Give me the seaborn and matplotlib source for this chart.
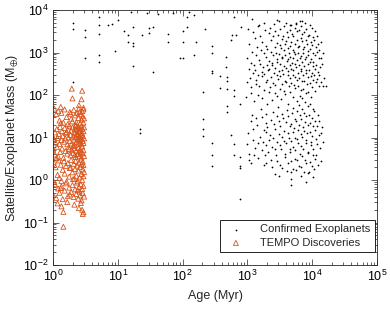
import matplotlib
matplotlib.use("Agg")
import matplotlib.pyplot as plt
import seaborn as sns
import numpy as np
from matplotlib.ticker import LogLocator, LogFormatterSciNotation, NullFormatter

# values, stored as log10(age / Myr) and log10(mass / M_earth)

# confirmed exoplanets, sparse young ones (< ~150 Myr)
exo_sparse_log_age = [0.31, 0.31, 0.31, 0.49, 0.49, 0.49, 0.71, 0.71, 0.71, 0.71, 0.71,
                      0.85, 0.91, 0.95, 1.00, 1.10, 1.15, 1.15, 1.23, 1.23, 1.23, 1.23,
                      1.34, 1.34, 1.37, 1.48, 1.48, 1.54, 1.54, 1.77, 1.77, 2.00, 2.00,
                      2.00, 1.96, 2.07, 2.07, 2.18, 2.18, 1.20, 1.45, 1.62, 1.85, 2.10]
exo_sparse_log_mass = [3.70, 3.55, 2.30, 3.53, 3.37, 2.86, 3.84, 3.65, 3.44, 2.95, 2.78,
                       3.65, 3.66, 3.03, 3.77, 3.51, 3.42, 3.25, 3.60, 3.23, 3.16, 2.69,
                       1.20, 1.10, 3.42, 3.58, 3.46, 3.60, 2.53, 3.44, 3.25, 3.51, 3.25,
                       2.86, 2.87, 3.84, 3.60, 3.88, 2.95, 3.95, 3.92, 3.90, 3.93, 3.95]

# confirmed exoplanets between ~150 Myr and 1 Gyr, plus a few stragglers
exo_mid_log_age = [2.34, 2.46, 2.46, 2.46, 2.46, 2.58, 2.58, 2.31, 2.67, 2.67, 2.68,
                   2.68, 2.68, 2.31, 2.31, 2.31, 2.46, 2.46, 2.46, 2.68, 2.68, 2.80,
                   2.80, 2.88, 2.75, 2.80, 2.80, 2.89, 2.89, 2.89, 2.90, 3.18, 3.46,
                   3.65, 3.75, 3.85, 2.77, 2.82, 2.75, 2.89, 2.20, 4.22, 2.80, 3.07]
exo_mid_log_mass = [3.55, 3.15, 2.98, 2.57, 2.51, 2.45, 2.16, 2.08, 2.90, 2.67, 2.43,
                    2.34, 2.13, 1.43, 1.19, 1.04, 0.88, 0.60, 0.33, 1.74, 1.61, 2.12,
                    1.98, 1.80, 1.06, 0.85, 0.59, 0.53, 0.34, 0.29, 3.61, 3.65, 3.76,
                    3.65, 3.69, 3.73, 3.41, 3.41, 3.29, -0.45, 3.25, 2.21, 3.84, 3.80]

# old, massive planets (upper cloud)
exo_upper_log_age = [
    3.01, 2.99, 3.02, 3.00, 2.98,
    3.03, 3.05, 3.04, 3.06,
    3.09, 3.07, 3.10, 3.08, 3.06,
    3.11, 3.13, 3.12, 3.14, 3.10,
    3.17, 3.15, 3.18, 3.16, 3.14, 3.17,
    3.19, 3.21, 3.20, 3.22, 3.18,
    3.25, 3.23, 3.26, 3.24, 3.22, 3.25, 3.23,
    3.27, 3.29, 3.28, 3.30, 3.26, 3.29,
    3.33, 3.31, 3.34, 3.32, 3.30, 3.33, 3.31,
    3.35, 3.37, 3.36, 3.38, 3.34, 3.37, 3.35, 3.38,
    3.41, 3.39, 3.42, 3.40, 3.38, 3.41, 3.39, 3.42,
    3.43, 3.45, 3.44, 3.46, 3.42, 3.45, 3.43, 3.46,
    3.49, 3.47, 3.50, 3.48, 3.46, 3.49, 3.47, 3.50,
    3.51, 3.53, 3.52, 3.54, 3.50, 3.53, 3.51, 3.54, 3.52,
    3.57, 3.55, 3.58, 3.56, 3.54, 3.57, 3.55, 3.58, 3.56,
    3.59, 3.61, 3.60, 3.62, 3.58, 3.61, 3.59, 3.62, 3.60, 3.58,
    3.65, 3.63, 3.66, 3.64, 3.62, 3.65, 3.63, 3.66, 3.64, 3.62,
    3.67, 3.69, 3.68, 3.70, 3.66, 3.69, 3.67, 3.70, 3.68, 3.66,
    3.73, 3.71, 3.74, 3.72, 3.70, 3.73, 3.71, 3.74, 3.72, 3.70,
    3.75, 3.77, 3.76, 3.78, 3.74, 3.77, 3.75, 3.78, 3.76, 3.74, 3.77,
    3.81, 3.79, 3.82, 3.80, 3.78, 3.81, 3.79, 3.82, 3.80, 3.78, 3.81,
    3.83, 3.85, 3.84, 3.86, 3.82, 3.85, 3.83, 3.86, 3.84, 3.82, 3.85,
    3.89, 3.87, 3.90, 3.88, 3.86, 3.89, 3.87, 3.90, 3.88, 3.86, 3.89,
    3.91, 3.93, 3.92, 3.94, 3.90, 3.93, 3.91, 3.94, 3.92, 3.90,
    3.97, 3.95, 3.98, 3.96, 3.94, 3.97, 3.95, 3.98, 3.96, 3.94, 3.97,
    3.99, 4.01, 4.00, 4.02, 3.98, 4.01, 3.99, 4.02, 4.00, 3.98,
    4.05, 4.03, 4.06, 4.04, 4.02, 4.05, 4.03, 4.06, 4.04,
    4.07, 4.09, 4.08, 4.10, 4.06, 4.09, 4.07, 4.10,
    4.13, 4.11, 4.14, 4.12, 4.10, 4.13,
    4.17, 4.15, 4.18, 4.16,
]
exo_upper_log_mass = [
    3.55, 2.88, 2.62, 2.30, 1.95,
    3.20, 2.75, 2.41, 2.05,
    3.48, 3.02, 2.70, 2.52, 2.18,
    3.33, 2.95, 2.60, 2.27, 1.85,
    3.62, 3.12, 2.83, 2.48, 2.36, 2.01,
    3.40, 3.05, 2.74, 2.55, 2.22,
    3.70, 3.25, 2.98, 2.66, 2.44, 2.12, 1.92,
    3.52, 3.15, 2.90, 2.70, 2.50, 2.30,
    3.45, 3.08, 2.80, 2.58, 2.35, 2.08, 1.78,
    3.58, 3.30, 3.02, 2.76, 2.62, 2.42, 2.18, 1.88,
    3.66, 3.38, 3.12, 2.93, 2.70, 2.52, 2.28, 2.05,
    3.50, 3.22, 3.00, 2.84, 2.64, 2.46, 2.24, 1.98,
    3.74, 3.42, 3.18, 2.96, 2.78, 2.56, 2.38, 2.14,
    3.55, 3.32, 3.10, 2.90, 2.72, 2.60, 2.44, 2.26, 1.90,
    3.62, 3.40, 3.20, 3.05, 2.86, 2.68, 2.50, 2.34, 2.10,
    3.70, 3.48, 3.28, 3.10, 2.94, 2.80, 2.64, 2.48, 2.30, 2.02,
    3.52, 3.36, 3.16, 2.98, 2.84, 2.70, 2.56, 2.40, 2.20, 1.80,
    3.64, 3.44, 3.24, 3.06, 2.90, 2.76, 2.62, 2.46, 2.28, 2.08,
    3.58, 3.38, 3.20, 3.02, 2.88, 2.72, 2.58, 2.42, 2.24, 1.95,
    3.68, 3.50, 3.30, 3.12, 2.96, 2.82, 2.66, 2.52, 2.36, 2.16, 1.86,
    3.74, 3.54, 3.34, 3.16, 3.00, 2.86, 2.70, 2.56, 2.40, 2.22, 1.98,
    3.62, 3.44, 3.26, 3.08, 2.92, 2.78, 2.62, 2.48, 2.32, 2.12, 1.92,
    3.70, 3.48, 3.30, 3.14, 2.98, 2.84, 2.68, 2.52, 2.34, 2.14, 1.84,
    3.56, 3.38, 3.20, 3.04, 2.90, 2.74, 2.58, 2.42, 2.26, 2.04,
    3.64, 3.42, 3.24, 3.08, 2.94, 2.78, 2.60, 2.44, 2.28, 2.06, 1.80,
    3.58, 3.36, 3.18, 3.00, 2.84, 2.68, 2.52, 2.36, 2.18, 1.96,
    3.50, 3.30, 3.12, 2.94, 2.78, 2.62, 2.46, 2.30, 2.10,
    3.40, 3.20, 3.02, 2.86, 2.70, 2.54, 2.38, 2.20,
    3.25, 3.05, 2.88, 2.66, 2.48, 2.30,
    3.00, 2.72, 2.40, 2.21,
]

# old, low-mass planets (lower cloud)
exo_lower_log_age = [
    3.01, 2.99, 3.02,
    3.05, 3.03,
    3.07, 3.09, 3.08, 3.10, 3.06,
    3.13, 3.11,
    3.15, 3.17, 3.16,
    3.21, 3.19, 3.22,
    3.23, 3.25, 3.24, 3.26,
    3.28, 3.28, 3.29, 3.28, 3.27, 3.28,
    3.31, 3.33, 3.32,
    3.37, 3.35, 3.38, 3.36,
    3.39, 3.41, 3.40, 3.42, 3.38,
    3.45, 3.43, 3.46, 3.44, 3.42,
    3.47, 3.49, 3.48, 3.50, 3.46, 3.49,
    3.53, 3.51, 3.54, 3.52, 3.50,
    3.55, 3.57, 3.56, 3.58, 3.54,
    3.61, 3.59, 3.62, 3.60, 3.58, 3.61,
    3.63, 3.65, 3.64, 3.66, 3.62,
    3.69, 3.67, 3.70, 3.68, 3.66, 3.68, 3.68, 3.68, 3.68,
    3.71, 3.73, 3.72, 3.74, 3.70, 3.73, 3.71,
    3.77, 3.75, 3.78, 3.76, 3.74, 3.77, 3.75,
    3.79, 3.81, 3.80, 3.82, 3.78, 3.81, 3.79, 3.82,
    3.85, 3.83, 3.86, 3.84, 3.82, 3.85, 3.83,
    3.87, 3.89, 3.88, 3.90, 3.86, 3.89, 3.87, 3.90,
    3.93, 3.91, 3.94, 3.92, 3.90, 3.93, 3.91, 3.94,
    3.95, 3.97, 3.96, 3.98, 3.94, 3.97, 3.95,
    4.01, 3.99, 4.02, 4.00, 3.98, 4.01, 3.99, 4.02,
    4.03, 4.05, 4.04, 4.06, 4.02, 4.05, 4.03,
    4.09, 4.07, 4.10, 4.08, 4.06, 4.09,
    4.11, 4.13, 4.12, 4.14,
    4.15, 4.17,
]
exo_lower_log_mass = [
    1.10, 0.84, 0.47,
    1.38, 0.62,
    1.52, 1.21, 0.95, 0.58, 0.40,
    1.45, 0.75,
    1.30, 0.88, 0.52,
    1.66, 1.02, 0.70,
    1.48, 1.18, 0.90, 0.35,
    1.56, 1.35, 1.12, 0.82, 0.60, 0.40,
    1.25, 0.95, 0.66,
    1.42, 1.05, 0.78, 0.48,
    1.60, 1.32, 0.98, 0.72, 0.30,
    1.50, 1.20, 0.90, 0.58, 0.15,
    1.72, 1.38, 1.08, 0.82, 0.44, 0.10,
    1.55, 1.28, 1.02, 0.74, 0.36,
    1.46, 1.15, 0.92, 0.62, 0.28,
    1.64, 1.36, 1.10, 0.86, 0.54, 0.22,
    1.50, 1.26, 0.98, 0.72, 0.40,
    1.58, 1.32, 1.14, 0.92, 0.66, 0.44, 0.20, 0.02, -0.12,
    1.70, 1.44, 1.22, 1.00, 0.78, 0.50, 0.26,
    1.62, 1.40, 1.18, 0.96, 0.70, 0.46, 0.24,
    1.76, 1.52, 1.30, 1.08, 0.88, 0.62, 0.34, 0.10,
    1.66, 1.44, 1.24, 1.02, 0.80, 0.56, 0.30,
    1.58, 1.36, 1.16, 0.94, 0.72, 0.48, 0.20, -0.05,
    1.74, 1.50, 1.30, 1.10, 0.88, 0.64, 0.40, 0.16,
    1.54, 1.34, 1.12, 0.90, 0.66, 0.42, 0.18,
    1.68, 1.46, 1.26, 1.04, 0.82, 0.58, 0.32, 0.08,
    1.62, 1.40, 1.18, 0.96, 0.74, 0.50, 0.26,
    1.52, 1.28, 1.06, 0.84, 0.60, 0.36,
    1.40, 1.10, 0.76, 0.45,
    1.25, 0.90,
]

# TEMPO discoveries (1-3 Myr)
tempo_log_age = [
    # top
    0.29, 0.45, 0.30, 0.44, 0.12, 0.40, 0.47,
    # 1.3 - 1.7
    0.02, 0.05, 0.08, 0.10, 0.13, 0.16, 0.18, 0.21, 0.23, 0.26, 0.28, 0.30, 0.32, 0.34, 0.36,
    0.37, 0.39, 0.40, 0.42, 0.43, 0.44, 0.45, 0.46, 0.47, 0.47, 0.48, 0.35, 0.27, 0.12, 0.41,
    # 0.8 - 1.3
    0.00, 0.01, 0.03, 0.04, 0.06, 0.07, 0.09, 0.10, 0.11, 0.13, 0.14, 0.15, 0.17, 0.18, 0.19,
    0.20, 0.22, 0.23, 0.24, 0.25, 0.26, 0.27, 0.28, 0.29, 0.30, 0.31, 0.32, 0.33, 0.33, 0.34,
    0.35, 0.35, 0.36, 0.37, 0.37, 0.38, 0.38, 0.39, 0.39, 0.40, 0.40, 0.41, 0.41, 0.42, 0.42,
    0.43, 0.43, 0.44, 0.44, 0.45, 0.45, 0.46, 0.46, 0.47, 0.47, 0.48, 0.48, 0.36, 0.31, 0.21,
    # 0.5 - 0.8
    0.00, 0.03, 0.06, 0.08, 0.11, 0.14, 0.16, 0.19, 0.22, 0.24, 0.27, 0.29, 0.31, 0.33, 0.35,
    0.36, 0.38, 0.39, 0.41, 0.42, 0.43, 0.44, 0.45, 0.46, 0.47, 0.48, 0.40, 0.34, 0.25, 0.05,
    # 0.0 - 0.5
    0.01, 0.02, 0.04, 0.07, 0.09, 0.10, 0.12, 0.13, 0.15, 0.17, 0.18, 0.20, 0.21, 0.23, 0.25,
    0.26, 0.28, 0.30, 0.31, 0.32, 0.34, 0.35, 0.36, 0.37, 0.38, 0.39, 0.40, 0.41, 0.42, 0.43,
    0.44, 0.44, 0.45, 0.46, 0.46, 0.47, 0.47, 0.48, 0.33, 0.27,
    # -0.5 - 0.0
    0.00, 0.03, 0.05, 0.08, 0.10, 0.13, 0.15, 0.18, 0.20, 0.23, 0.25, 0.28, 0.30, 0.32, 0.34,
    0.36, 0.37, 0.39, 0.40, 0.41, 0.42, 0.43, 0.44, 0.45, 0.46, 0.47, 0.48, 0.38, 0.26, 0.12,
    # bottom
    0.07, 0.13, 0.16, 0.22, 0.33, 0.40, 0.43, 0.45, 0.46, 0.47, 0.16,
]
tempo_log_mass = [
    2.15, 2.10, 1.92, 1.90, 1.72, 1.76, 1.70,
    1.68, 1.55, 1.62, 1.40, 1.58, 1.35, 1.66, 1.48, 1.32, 1.60, 1.44, 1.38, 1.65, 1.52, 1.36,
    1.58, 1.46, 1.68, 1.33, 1.55, 1.42, 1.62, 1.50, 1.35, 1.66, 1.45, 1.30, 1.56, 1.34, 1.60,
    1.02, 0.96, 1.12, 0.88, 1.20, 0.99, 1.08, 0.85, 1.25, 0.94, 1.15, 1.04, 0.90, 1.22, 0.98,
    1.10, 0.84, 1.18, 1.00, 1.28, 0.92, 1.06, 1.16, 0.86, 1.24, 1.02, 0.95, 1.12, 0.82, 1.20,
    1.00, 1.27, 0.90, 1.08, 1.18, 0.96, 1.26, 0.86, 1.05, 1.14, 0.93, 1.22, 1.01, 0.88, 1.16,
    1.06, 0.97, 1.28, 0.84, 1.10, 1.20, 0.92, 1.03, 1.15, 0.87, 1.24, 0.98, 1.09, 0.80, 1.13,
    0.72, 0.60, 0.78, 0.55, 0.66, 0.74, 0.52, 0.68, 0.62, 0.77, 0.58, 0.70, 0.64, 0.76, 0.54,
    0.69, 0.61, 0.75, 0.57, 0.72, 0.65, 0.53, 0.79, 0.63, 0.70, 0.56, 0.67, 0.59, 0.73, 0.51,
    0.42, -0.05, 0.30, 0.12, 0.46, 0.05, 0.36, -0.02, 0.24, 0.44, 0.15, 0.33, -0.04, 0.40, 0.08,
    0.28, 0.47, 0.18, 0.02, 0.38, 0.26, 0.45, 0.10, 0.34, -0.03, 0.22, 0.41, 0.06, 0.31, 0.48,
    0.14, 0.37, 0.00, 0.25, 0.43, 0.09, 0.35, 0.19, 0.03, 0.29,
    -0.35, -0.10, -0.42, -0.20, -0.30, -0.15, -0.45, -0.25, -0.08, -0.38, -0.18, -0.28, -0.12, -0.40, -0.22,
    -0.33, -0.06, -0.44, -0.16, -0.27, -0.36, -0.10, -0.48, -0.21, -0.31, -0.14, -0.39, -0.24, -0.34, -0.19,
    -0.55, -0.62, -0.75, -0.52, -0.58, -0.66, -0.54, -0.70, -0.80, -0.76, -1.10,
]

exo_age = 10 ** np.concatenate([exo_sparse_log_age, exo_mid_log_age, exo_upper_log_age, exo_lower_log_age])
exo_mass = 10 ** np.concatenate([exo_sparse_log_mass, exo_mid_log_mass, exo_upper_log_mass, exo_lower_log_mass])
tempo_age = 10 ** np.array(tempo_log_age)
tempo_mass = 10 ** np.array(tempo_log_mass)

sns.set_theme(style="ticks")
plt.rcParams["font.family"] = ["Liberation Sans", "DejaVu Sans"]
plt.rcParams["mathtext.fontset"] = "custom"
plt.rcParams["mathtext.rm"] = "Liberation Sans"
plt.rcParams["mathtext.default"] = "regular"

axis_col = "#262626"
tempo_col = "#D95319"
fig = plt.figure(figsize=(3.9, 3.11), dpi=100)
ax = fig.add_axes([53 / 390, 1 - 265 / 311, 324 / 390, 255 / 311])

sns.scatterplot(x=exo_age, y=exo_mass, marker="o", s=1.6, color="black", linewidth=0,
                label="Confirmed Exoplanets", ax=ax)
sns.scatterplot(x=tempo_age, y=tempo_mass, marker="^", s=13, color=tempo_col,
                facecolor="none", edgecolor=tempo_col, linewidth=0.6,
                label="TEMPO Discoveries", ax=ax)

ax.set_xscale("log")
ax.set_yscale("log")
ax.set_xlim(1, 1e5)
ax.set_ylim(1e-2, 1e4)
for axis in (ax.xaxis, ax.yaxis):
    axis.set_major_locator(LogLocator(base=10, numticks=20))
    axis.set_minor_locator(LogLocator(base=10, subs=np.arange(2, 10), numticks=20))
    axis.set_major_formatter(LogFormatterSciNotation())
    axis.set_minor_formatter(NullFormatter())

ax.tick_params(which="both", direction="in", top=True, right=True, color=axis_col,
               width=0.5, labelsize=9, labelcolor="black", pad=3)
ax.tick_params(which="major", length=4)
ax.tick_params(which="minor", length=2)
for sp in ax.spines.values():
    sp.set_color(axis_col)
    sp.set_linewidth(0.6)

ax.set_xlabel("Age (Myr)", fontsize=9, labelpad=4)
ax.set_ylabel(r"Satellite/Exoplanet Mass (M$_{\oplus}$)", fontsize=9, labelpad=2)

leg = ax.legend(loc="lower right", bbox_to_anchor=(0.994, 0.05), borderaxespad=0,
                frameon=True, fancybox=False, framealpha=1, edgecolor="black",
                fontsize=8, handletextpad=1.2, borderpad=0.4, labelspacing=0.3)
leg.get_frame().set_linewidth(0.6)

fig.savefig("out.png", dpi=100)
